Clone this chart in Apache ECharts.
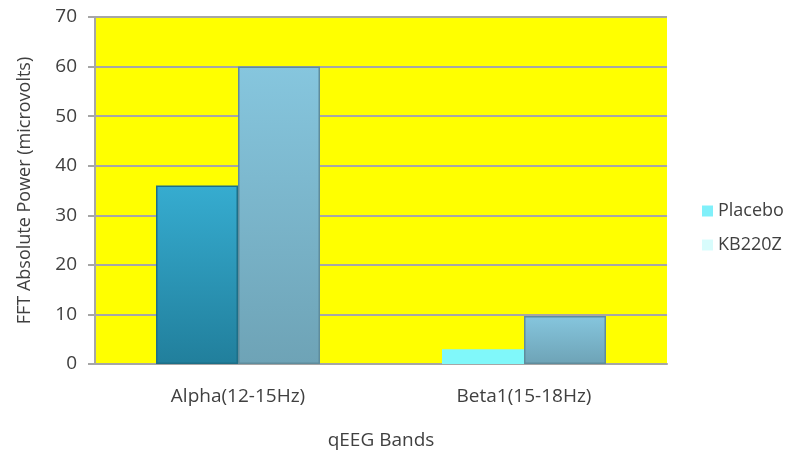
<!DOCTYPE html>
<html><head><meta charset="utf-8">
<script src="https://cdn.jsdelivr.net/npm/echarts@6/dist/echarts.min.js"></script>
<style>html,body{margin:0;padding:0;background:#fff}#c{width:788px;height:460px}</style>
</head><body><div id="c"></div>
<script>
var categories = ['Alpha(12-15Hz)', 'Beta1(15-18Hz)'];
var placebo = [36, 3];
var kb220z = [60, 9.7];
var yTicks = [0, 10, 20, 30, 40, 50, 60, 70];

var font = '"Open Sans", sans-serif';
function grad(a, b) {
  return new echarts.graphic.LinearGradient(0, 0, 0, 1, [{offset: 0, color: a}, {offset: 1, color: b}]);
}
var placeboStyles = [
  {color: grad('#36acd0', '#217f9c'), borderColor: '#1d6f87', borderWidth: 1.5},
  {color: '#80f8fa', borderColor: '#80f8fa', borderWidth: 0}
];
var kbStyle = {color: grad('#86c6de', '#6ea3b6'), borderColor: '#5f8c9c', borderWidth: 1.5};

var chart = echarts.init(document.getElementById('c'), null, {renderer: 'canvas'});
chart.setOption({
  animation: false,
  textStyle: {fontFamily: font},
  grid: {left: 95, top: 17, width: 572, height: 347, backgroundColor: '#ffff00', show: true, borderWidth: 0},
  legend: {
    orient: 'vertical', left: 697, top: 197, itemGap: 16, itemWidth: 11, itemHeight: 11,
    icon: 'rect',
    textStyle: {fontFamily: font, fontSize: 18, color: '#404040'},
    data: [
      {name: 'Placebo', itemStyle: {color: '#80f0fa', borderWidth: 0}},
      {name: 'KB220Z', itemStyle: {color: '#d8fcfc', borderWidth: 0}}
    ]
  },
  xAxis: {
    type: 'category', data: categories,
    name: 'qEEG Bands', nameLocation: 'middle', nameGap: 67,
    nameTextStyle: {fontFamily: font, fontSize: 19, color: '#404040'},
    axisLine: {show: true, lineStyle: {color: '#a6a6a6', width: 2}},
    axisTick: {show: false},
    axisLabel: {fontFamily: font, fontSize: 19, color: '#404040', margin: 23}
  },
  yAxis: {
    type: 'value', min: 0, max: 70, interval: 10,
    name: 'FFT Absolute Power (microvolts)', nameLocation: 'middle', nameGap: 61,
    nameTextStyle: {fontFamily: font, fontSize: 18, color: '#404040'},
    axisLine: {show: true, lineStyle: {color: '#a6a6a6', width: 2}},
    axisTick: {show: true, length: 7, lineStyle: {color: '#a6a6a6', width: 2}},
    axisLabel: {fontFamily: font, fontSize: 19, color: '#404040', margin: 18,
      formatter: function (v) { return yTicks.indexOf(v) >= 0 ? String(v) : ''; }},
    splitLine: {show: true, lineStyle: {color: '#a6a6a6', width: 2}}
  },
  series: [
    {name: 'Placebo', type: 'bar', barWidth: 82, barGap: '0%',
     itemStyle: {color: '#80f0fa'},
     data: placebo.map(function (v, i) { return {value: v, itemStyle: placeboStyles[i]}; })},
    {name: 'KB220Z', type: 'bar', barWidth: 82, barGap: '0%',
     itemStyle: {color: '#d8fcfc'},
     data: kb220z.map(function (v) { return {value: v, itemStyle: kbStyle}; })}
  ]
});
</script></body></html>
